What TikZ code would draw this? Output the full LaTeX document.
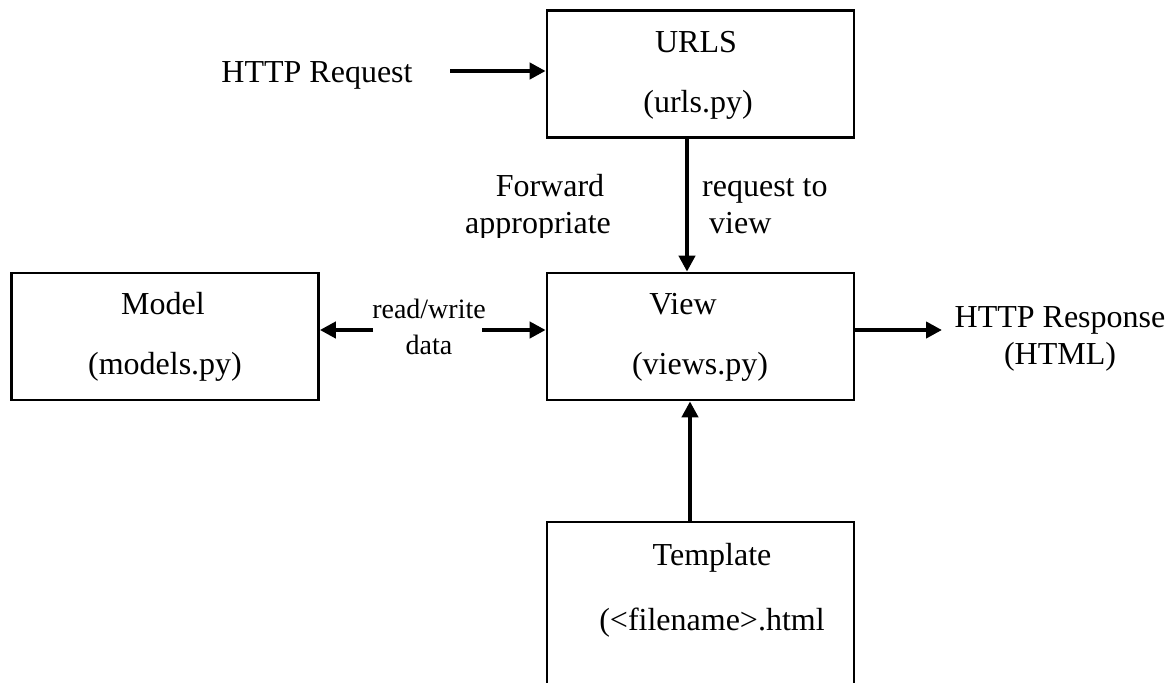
\documentclass[tikz,border=0pt]{standalone}
\usepackage{fontspec}
\setmainfont{Liberation Serif}
\usetikzlibrary{arrows.meta}
\begin{document}
\begin{tikzpicture}[x=1pt,y=-1pt,
  box/.style={draw=black, line width=2.7pt, minimum width=307pt, minimum height=127pt, inner sep=0pt},
  txt/.style={anchor=base, inner sep=0pt, font=\fontsize{32}{37}\selectfont},
  small/.style={anchor=base, inner sep=0pt, font=\fontsize{28}{36}\selectfont},
  arr/.style={line width=4.2pt, -{Triangle[length=16pt,width=16pt]}},
]
\useasboundingbox (0,0) rectangle (1168,683);
\clip (0,0) rectangle (1168,683);

% boxes
\node[box] (urls)  at (700.5,74)    {};
\node[box] (view)  at (700.5,336.5) {};
\node[box] (model) at (165,336.5)   {};
\node[box, minimum height=300pt] (tmpl) at (700.5,672) {};

% box captions
\node[txt] (urlsA)  at (696,52)  {URLS};
\node[txt] (urlsB)  at (698,112) {(urls.py)};
\node[txt] (viewA)  at (683,314) {View};
\node[txt] (viewB)  at (700,374) {(views.py)};
\node[txt] (modelA) at (163,314) {Model};
\node[txt] (modelB) at (165,374) {(models.py)};
\node[txt] (tmplA)  at (712,565) {Template};
\node[txt] (tmplB)  at (712,630) {(<filename>.html};

% incoming request
\node[txt] (req) at (317,82) {HTTP Request};
\coordinate (reqtail) at (450,71);
\draw[arr] (reqtail) -- (reqtail -| urls.west);

% urls -> view
\coordinate (ax) at (687,0);
\draw[arr] (urls.south -| ax) -- (view.north -| ax);
\begin{scope}
  \clip (400,150) rectangle (660,237);
  \node[txt] (fwdA) at (550,196) {Forward};
  \node[txt] (fwdB) at (538,233) {appropriate};
\end{scope}
\node[txt, anchor=base west] (fwdC) at (702,196) {request to};
\node[txt, anchor=base west] (fwdD) at (709,233) {view};

% template -> view
\coordinate (bx) at (690,0);
\draw[arr] (tmpl.north -| bx) -- (view.south -| bx);

% model <-> view
\node[small] (rwA) at (429,318) {read/write};
\node[small] (rwB) at (429,354) {data};
\coordinate (rwL) at (373,330);
\coordinate (rwR) at (482,330);
\draw[arr] (rwL) -- (rwL -| model.east);
\draw[arr] (rwR) -- (rwR -| view.west);

% response
\coordinate (respTip) at (942,330);
\draw[arr] (respTip -| view.east) -- (respTip);
\node[txt] (respA) at (1060,327) {HTTP Response};
\node[txt] (respB) at (1060,364) {(HTML)};
\end{tikzpicture}
\end{document}
